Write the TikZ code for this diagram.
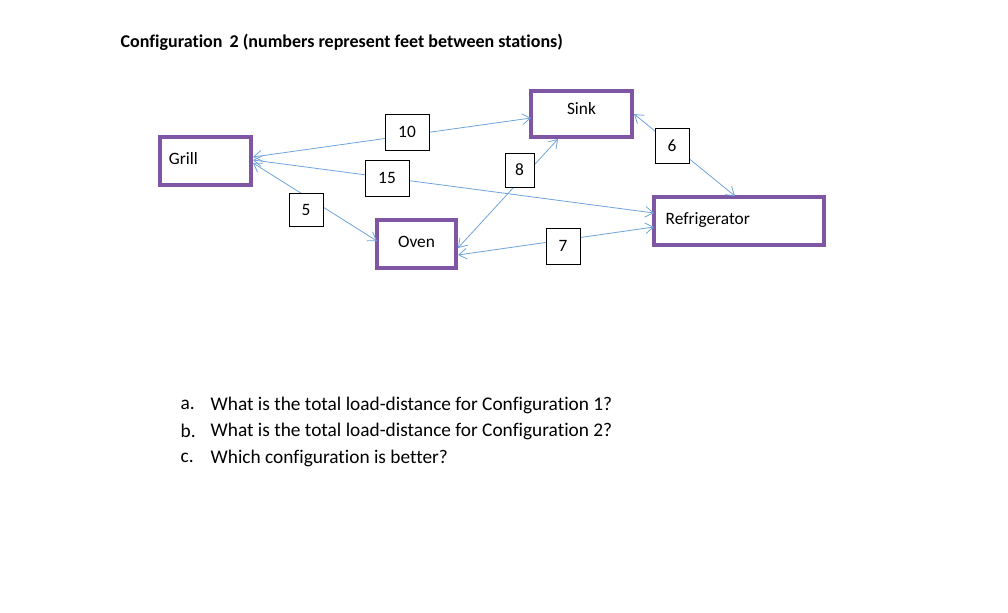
\documentclass[tikz,border=0pt]{standalone}
\usepackage{fontspec}
\setmainfont{Carlito}[Ligatures=NoCommon]
\usetikzlibrary{arrows.meta}
\definecolor{pur}{HTML}{7E56A3}
\definecolor{lnk}{HTML}{6FA3DC}
\begin{document}
\begin{tikzpicture}[x=0.75pt,y=-0.75pt,
 stn/.style={draw=pur,line width=2.4pt,inner sep=0pt,font=\fontsize{13}{15}\selectfont},
 lbl/.style={draw,fill=white,inner sep=0pt,font=\fontsize{13}{15}\selectfont,line width=0.6pt},
 con/.style={draw=lnk,line width=0.6pt,{Straight Barb[length=6pt,width=8pt]}-{Straight Barb[length=6pt,width=8pt]}}]
\useasboundingbox (0,0) rectangle (1008,612);
\node[anchor=west,font=\bfseries\fontsize{13.5}{15}\selectfont] (title) at (116,42) {Configuration\, 2 (numbers represent feet between stations)};
\node[stn,minimum width=91*0.75pt,minimum height=48*0.75pt,text width=55pt] (grill) at (205.5,161) {\raisebox{4pt}{Grill}};
\node[stn,minimum width=101*0.75pt,minimum height=46*0.75pt,align=center] (sink) at (581.5,114) {\raisebox{8pt}{Sink}};
\node[stn,minimum width=170*0.75pt,minimum height=48*0.75pt,text width=110pt] (fridge) at (739,221) {\raisebox{3pt}{Refrigerator}};
\node[stn,minimum width=79*0.75pt,minimum height=48*0.75pt] (oven) at (416.5,244) {\raisebox{3pt}{Oven}};
\coordinate (g1) at (253,157);
\coordinate (g2) at (253,160);
\coordinate (g3) at (253,163);
\draw[con] (g1) -- (531,118);
\draw[con] (g2) -- (654,213);
\draw[con] (g3) -- (377,241);
\draw[con] (458,248) -- (558,139);
\draw[con] (634,114) -- (735,196);
\draw[con] (458,255) -- (654,227);
\node[lbl,minimum width=44*0.75pt,minimum height=36*0.75pt] (l10) at (407,132) {10};
\node[lbl,minimum width=44*0.75pt,minimum height=36*0.75pt] (l15) at (387,178) {15};
\node[lbl,minimum width=34*0.75pt,minimum height=33*0.75pt] (l5) at (306,209.5) {5};
\node[lbl,minimum width=29*0.75pt,minimum height=34*0.75pt] (l8) at (519.5,170) {8};
\node[lbl,minimum width=34*0.75pt,minimum height=35*0.75pt] (l6) at (672,145.5) {6};
\node[lbl,minimum width=34*0.75pt,minimum height=36*0.75pt] (l7) at (563,246) {7};
\begin{scope}[every node/.style={anchor=west,font=\fontsize{14.5}{16}\selectfont}]
\node (qa) at (176,405) {a.};
\node (ta) at (206,405) {What is the total load-distance for Configuration 1?};
\node (qb) at (176,431) {b.};
\node (tb) at (206,431) {What is the total load-distance for Configuration 2?};
\node (qc) at (176,458) {c.};
\node (tc) at (206,458) {Which configuration is better?};
\end{scope}
\end{tikzpicture}
\end{document}
